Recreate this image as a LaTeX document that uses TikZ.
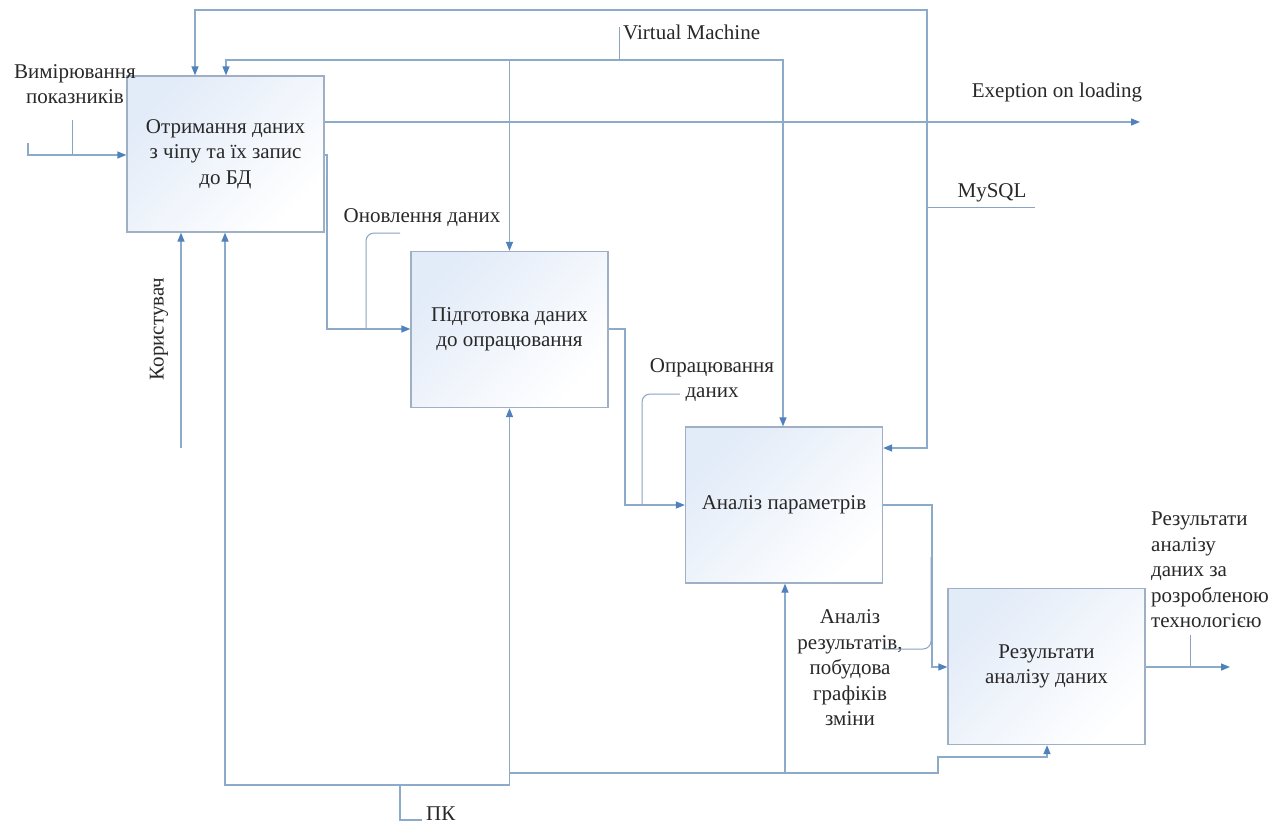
\documentclass[tikz,border=0pt]{standalone}
\usepackage{fontspec}
\setmainfont{Liberation Serif}
\usetikzlibrary{arrows.meta}
\definecolor{lineC}{RGB}{140,170,202}
\definecolor{tipC}{RGB}{79,129,189}
\definecolor{boxC}{RGB}{160,176,196}
\definecolor{fillC}{RGB}{226,235,248}
\definecolor{txtC}{RGB}{40,40,40}
\tikzset{
  conn/.style={draw=lineC, line width=1.3pt},
  arr/.style={conn, -{Triangle[length=9pt,width=7pt,color=tipC]}},
  leader/.style={draw=lineC!85!gray, line width=1pt, rounded corners=8pt},
  proc/.style={draw=boxC, line width=1.3pt, shading=axis, top color=fillC, bottom color=white, shading angle=45,
    minimum width=197pt, minimum height=156pt, inner sep=0pt, align=center, text=txtC,
    font=\fontsize{21}{25.5}\selectfont},
  lbl/.style={inner sep=0pt, text=txtC, font=\fontsize{21}{25.5}\selectfont}
}
\begin{document}
\begin{tikzpicture}[x=1pt,y=-1pt]
\useasboundingbox (0,0) rectangle (1282,823);
\fill[white] (0,0) rectangle (1282,823);

% boxes
\node[proc] (A) at (225.5,154) {Отримання даних\\з чіпу та їх запис\\до БД};
\node[proc] (B) at (509.5,329.5) {Підготовка даних\\до опрацювання};
\node[proc] (C) at (784,505) {Аналіз параметрів};
\node[proc] (D) at (1046.5,666.5) {Результати\\аналізу даних};

% labels
\node[lbl, align=center] (lIn) at (75,84) {Вимірювання\\показників};
\node[lbl, anchor=west] (lVM) at (623,32) {Virtual Machine};
\node[lbl] (lEx) at (1057,92) {Exeption on loading};
\node[lbl] (lSQL) at (992,193) {MySQL};
\node[lbl] (lUpd) at (422,218) {Оновлення даних};
\node[lbl, align=center] (lProc) at (712,380) {Опрацювання\\даних};
\node[lbl, align=center] (lRes) at (850,668) {Аналіз\\результатів,\\побудова\\графіків\\зміни};
\node[lbl, align=left, anchor=west] (lOut) at (1151,570) {Результати\\аналізу\\даних за\\розробленою\\технологією};
\node[lbl, rotate=90] (lUser) at (159,329) {Користувач};
\node[lbl, anchor=west] (lPK) at (426,814) {ПК};

% junction / free-end coordinates
\coordinate (inS) at (28,143);
\coordinate (inL) at (72,120);
\coordinate (sqlJ) at (927,207);
\coordinate (sqlL) at (1035,207);
\coordinate (vmJ) at (619,60);
\coordinate (vmL) at (619,27);
\coordinate (exE) at (1140,122);
\coordinate (outE) at (1230,667);
\coordinate (userS) at (181,448);
\coordinate (pkJ) at (400,785);
\coordinate (pkL) at (422,820);

% input
\draw[arr] (inS) -- (28,155) -- (A.west |- 0,155);
\draw[leader] (inL) -- (72,155);

% MySQL
\draw[arr] (sqlJ) -- (927,10) -- (195,10) -- (A.north -| 195,0);
\draw[arr] (sqlJ) -- (927,448) -- (C.east |- 0,448);
\draw[leader] (sqlJ) -- (sqlL);

% Virtual Machine
\draw[arr] (vmJ) -- (226,60) -- (A.north -| 226,0);
\draw[arr] (vmJ) -- (783,60) -- (C.north -| 783,0);
\draw[arr] (B.north |- 0,60) -- (B.north);
\draw[leader] (vmL) -- (vmJ);

% exception
\draw[arr] (A.east |- 0,122) -- (exE);

% A -> B
\draw[arr] (A.east |- 0,155) -- (327,155) -- (327,329) -- (B.west |- 0,329);
\draw[leader] (366,329) -- (366,233) -- (400,233);

% B -> C
\draw[arr] (B.east |- 0,329) -- (625,329) -- (625,505) -- (C.west);
\draw[leader] (642,505) -- (642,394) -- (680,394);

% C -> D
\draw[arr] (C.east) -- (932,505) -- (932,667) -- (D.west |- 0,667);
\draw[leader] (883,649) -- (931,649) -- (931,557);

% D output
\draw[arr] (D.east |- 0,667) -- (outE);
\draw[leader] (1190,635) -- (1190,667);

% user
\draw[arr] (userS) -- (A.south -| userS);

% PK
\draw[conn] (pkL) -- (400,820) -- (pkJ);
\draw[arr] (pkJ) -- (225,785) -- (A.south -| 225,0);
\draw[arr] (pkJ) -- (B.south |- 0,785) -- (B.south);
\draw[arr] (B.south |- 0,773) -- (785,773) -- (C.south -| 785,0);
\draw[arr] (785,773) -- (938,773) -- (938,757) -- (1047,757) -- (D.south -| 1047,0);
\end{tikzpicture}
\end{document}
